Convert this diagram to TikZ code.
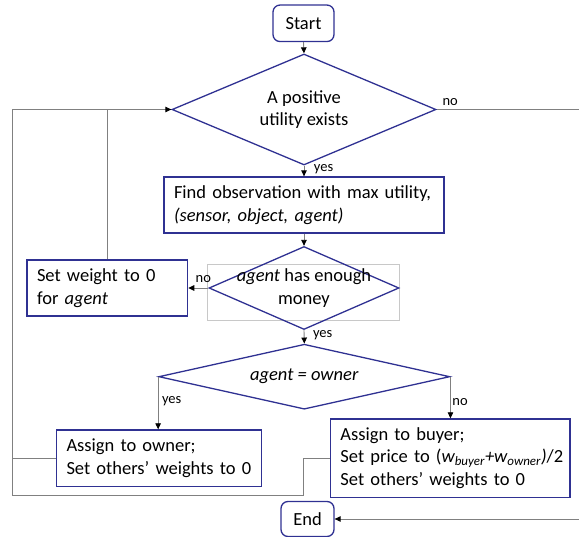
\documentclass[tikz,border=0pt]{standalone}
\usepackage{fontspec}
\setmainfont{Carlito}
\usetikzlibrary{positioning, arrows.meta, calc, shapes.geometric}
\definecolor{boxblue}{RGB}{47,49,146}
\definecolor{linkgrey}{RGB}{128,128,128}
\definecolor{framegrey}{RGB}{200,200,200}

\begin{document}
\begin{tikzpicture}[
    x=1pt, y=-1pt,
    every node/.style={font=\fontsize{18.5}{22.7}\selectfont},
    proc box/.style={rectangle, draw=boxblue, line width=1.3pt, align=left,
                     inner xsep=10pt, inner ysep=0pt},
    term box/.style={rectangle, rounded corners=7pt, draw=boxblue, line width=1.3pt,
                     inner sep=0pt},
    dec box/.style={diamond, aspect=2, draw=boxblue, line width=1.3pt, align=center,
                    inner xsep=-40pt, inner ysep=-5pt},
    lbl/.style={font=\fontsize{14.5}{16}\selectfont, inner sep=1.5pt},
    link/.style={draw=linkgrey, line width=0.9pt},
    arr/.style={link, -{Triangle[length=6pt, width=5.5pt, color=black]}},
  ]

  % ============ PAGE ============
  \useasboundingbox (0,0) rectangle (579,537);
  \clip (0,0) rectangle (579,537);

  % stray text frame round the money test
  \draw[framegrey, line width=0.8pt] (207.5, 264.3) rectangle (399, 320);

  % ============ MAIN COLUMN ============
  \node[term box, minimum width=61pt, minimum height=36.5pt] (start) at (303.5, 23.3) {Start};

  \node[dec box, minimum width=264pt, minimum height=111pt] (pos) at (304, 109.5)
    {A positive\\utility exists};

  \node[proc box, text width=260pt, minimum height=56pt] (find) at (304, 205)
    {Find observation with max utility,\\\textit{(sensor, object, agent)}};

  \node[dec box, minimum width=190pt, minimum height=83pt] (money) at (304, 288)
    {\textit{agent} has enough\\money};

  \node[dec box, minimum width=291pt, minimum height=65pt] (own) at (304.3, 376.7)
    {\textit{agent = owner}};

  \node[term box, minimum width=53pt, minimum height=35pt] (end) at (307.5, 519) {End};

  % ============ SIDE BOXES ============
  \node[proc box, text width=140.6pt, minimum height=56pt] (zero) at (107.3, 288)
    {Set weight to 0\\for \textit{agent}};

  \node[proc box, text width=185pt, minimum height=56.7pt] (toowner) at (159, 458.3)
    {Assign to owner;\\\mbox{Set others' weights to 0}};

  \node[proc box, text width=219.5pt, minimum height=78.3pt] (tobuyer) at (450.2, 458.1)
    {Assign to buyer;\\
     \mbox{Set price to (\textit{w\textsubscript{buyer}+w\textsubscript{owner})}/2}\\
     \mbox{Set others' weights to 0}};

  % ============ FLOW ============
  \draw[arr] (start.south) -- (pos.north);
  \draw[arr] (pos.south) -- node[lbl, anchor=west, pos=0.3, xshift=8pt] (yesA) {yes} (find.north);
  \draw[arr] (find.south) -- (money.north);
  \draw[arr] (money.west) -- node[lbl, at start, anchor=south, xshift=-5pt, yshift=3pt] (noB) {no} (zero.east);
  \draw[arr] (money.south) -- node[lbl, anchor=west, pos=0.4, xshift=7pt] (yesB) {yes} (own.north);
  \draw[arr] (own.west) -- node[lbl, anchor=west, pos=0.47, xshift=2pt] (yesC) {yes}
    (own.west |- toowner.north);
  \draw[arr] (own.east) -- node[lbl, anchor=west, pos=0.6] (noC) {no}
    (own.east |- tobuyer.north);

  % ============ LOOP BACK (left) ============
  \coordinate (loopL) at (12, 109.5);
  \coordinate (loopB) at (12, 495);
  \coordinate (jog) at (303, 495);
  \draw[link] (zero.north) -- (zero.north |- pos.west);
  \draw[link] (toowner.west) -- (toowner.west -| loopL);
  \draw[arr] (tobuyer.west) -| (jog) -- (loopB) -- (loopL) -- (pos.west);

  % ============ EXIT (right, runs off the page) ============
  \coordinate (exitR) at (592, 109.5);
  \draw[arr] (pos.east) -- node[lbl, at start, anchor=south west, xshift=4pt, yshift=2pt] (noA) {no}
    (exitR) |- (end.east);

\end{tikzpicture}
\end{document}
